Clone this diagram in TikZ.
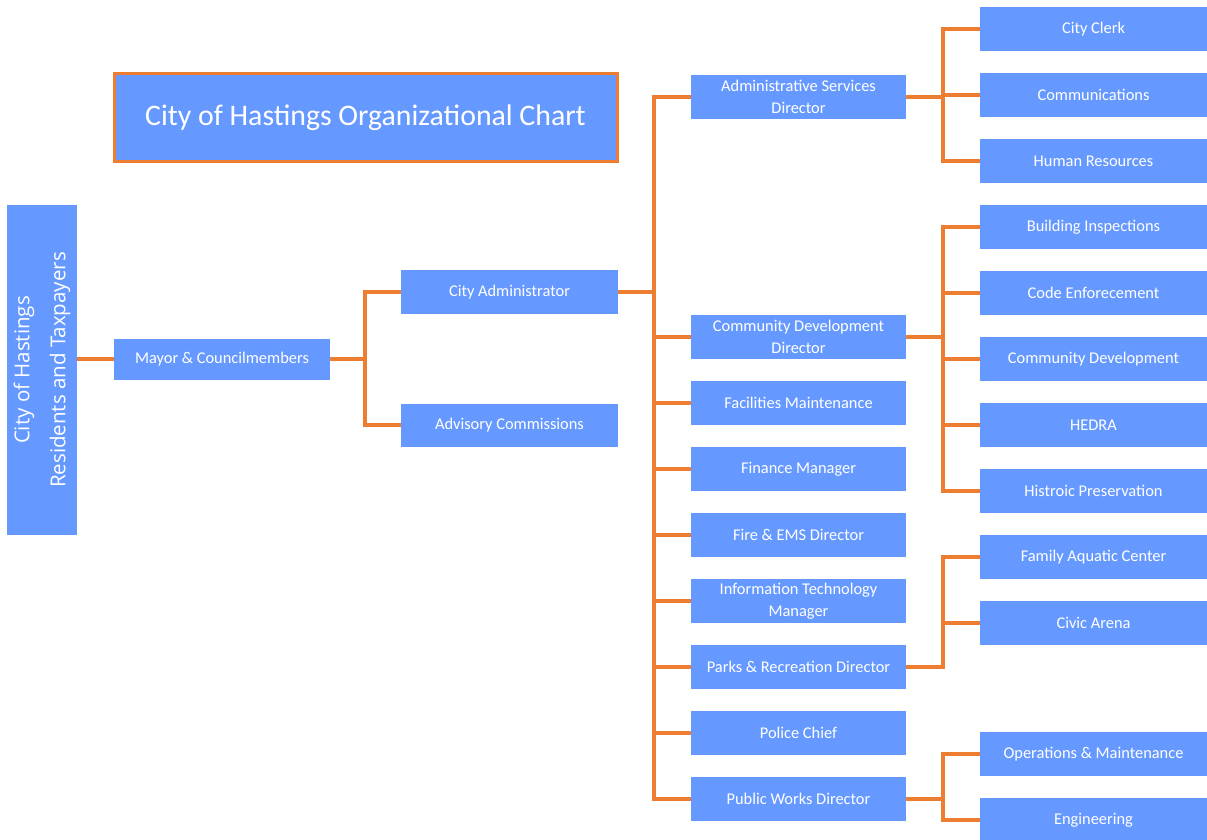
\documentclass[tikz,border=0pt]{standalone}
\usepackage{fontspec}
\setmainfont{Carlito}
\newfontfamily\sidefont{Open Sans}
\usetikzlibrary{positioning}
\definecolor{boxblue}{HTML}{6699FF}
\definecolor{lineorange}{HTML}{ED7D31}
\tikzset{x=1pt,y=-1pt,node distance=66pt}
\tikzset{unit/.style={fill=boxblue,text=white,minimum height=44pt,inner sep=0pt,align=center,font=\fontsize{16.4}{22}\selectfont}}
\tikzset{mid/.style={unit,minimum width=215pt}}
\tikzset{leaf/.style={unit,minimum width=227pt}}
\tikzset{wire/.style={draw=lineorange,line width=3.2pt}}

\begin{document}
\begin{tikzpicture}
                    \useasboundingbox (0,0) rectangle (1207,840);
                    % title and left side
                    \node[fill=boxblue,draw=lineorange,line width=3pt,text=white,minimum width=503pt,minimum height=87pt,font=\fontsize{29.8}{34}\selectfont] (title) at (365.5,117.5) {City of Hastings Organizational Chart};
                    \node[fill=boxblue,text=white,rotate=90,minimum width=330pt,minimum height=70pt,inner sep=0pt,align=center,font=\sidefont\fontsize{20.5}{36}\selectfont] (res) at (42,370) {City of Hastings\\Residents and Taxpayers};
                    \node[unit,minimum width=216pt,minimum height=41pt] (mayor) at (222,359) {Mayor \& Councilmembers};
                    \node[unit,minimum width=217pt] (cadmin) at (509.5,292) {City Administrator};
                    \node[unit,minimum width=217pt,minimum height=43pt] (advis) at (509.5,425) {Advisory Commissions};
                    % directors
                    \node[mid] (asd) at (798.5,97) {Administrative Services\\Director};
                    \node[mid] (cdd) at (798.5,337) {Community Development\\Director};
                    \node[mid] (fac) [below of=cdd] {Facilities Maintenance};
                    \node[mid] (fin) [below of=fac] {Finance Manager};
                    \node[mid] (fire) [below of=fin] {Fire \& EMS Director};
                    \node[mid] (it) [below of=fire] {Information Technology\\Manager};
                    \node[mid] (parks) [below of=it] {Parks \& Recreation Director};
                    \node[mid] (police) [below of=parks] {Police Chief};
                    \node[mid] (pwd) [below of=police] {Public Works Director};
                    % divisions
                    \node[leaf] (clerk) at (1093.5,29) {City Clerk};
                    \node[leaf] (comm) [below of=clerk] {Communications};
                    \node[leaf] (hr) [below of=comm] {Human Resources};
                    \node[leaf] (build) [below of=hr] {Building Inspections};
                    \node[leaf] (code) [below of=build] {Code Enforecement};
                    \node[leaf] (cdev) [below of=code] {Community Development};
                    \node[leaf] (hedra) [below of=cdev] {HEDRA};
                    \node[leaf] (hist) [below of=hedra] {Histroic Preservation};
                    \node[leaf] (aqua) [below of=hist] {Family Aquatic Center};
                    \node[leaf] (arena) [below of=aqua] {Civic Arena};
                    \node[leaf] (ops) at (1093.5,754) {Operations \& Maintenance};
                    \node[leaf] (eng) [below of=ops] {Engineering};
                    % connectors
                    \coordinate (s1) at (365,359);
                    \coordinate (s2) at (654,292);
                    \coordinate (s3) at (943,0);
                    \draw[wire] (mayor.west -| res.south) -- (mayor.west);
                    \draw[wire] (mayor.east) -- (s1);
                    \draw[wire] (cadmin.west) -| (s1) |- (advis.west);
                    \draw[wire] (cadmin.east) -- (s2);
                    \draw[wire] (asd.west) -| (s2) |- (pwd.west);
                    \foreach \n in {cdd,fac,fin,fire,it,parks,police}
                        \draw[wire] (\n.west -| s2) -- (\n.west);
                    \draw[wire] (asd.east) -- (asd.east -| s3);
                    \draw[wire] (clerk.west) -- (clerk.west -| s3) -- (hr.west -| s3) -- (hr.west);
                    \draw[wire] (comm.west -| s3) -- (comm.west);
                    \draw[wire] (cdd.east) -- (cdd.east -| s3);
                    \draw[wire] (build.west) -- (build.west -| s3) -- (hist.west -| s3) -- (hist.west);
                    \foreach \n in {code,cdev,hedra}
                        \draw[wire] (\n.west -| s3) -- (\n.west);
                    \draw[wire] (parks.east) -- (parks.east -| s3) -- (aqua.west -| s3) -- (aqua.west);
                    \draw[wire] (arena.west -| s3) -- (arena.west);
                    \draw[wire] (pwd.east) -- (pwd.east -| s3);
                    \draw[wire] (ops.west) -- (ops.west -| s3) -- (eng.west -| s3) -- (eng.west);
\end{tikzpicture}
\end{document}
